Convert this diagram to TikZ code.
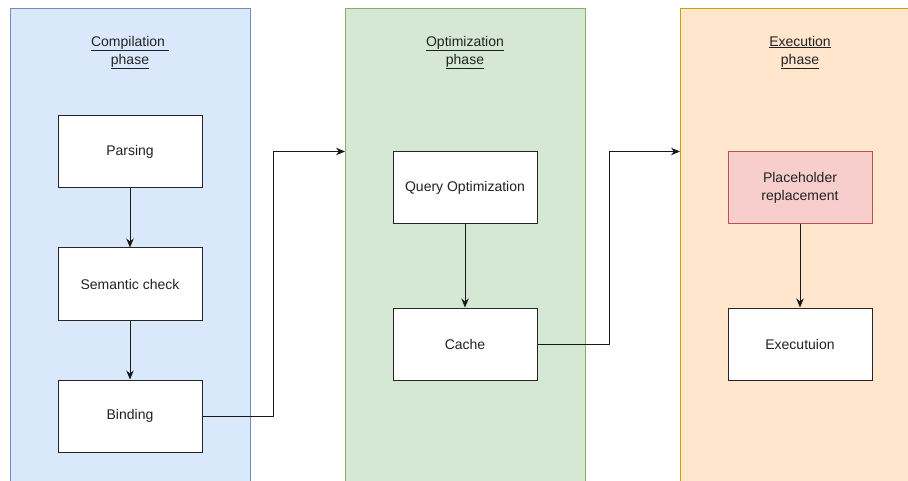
\documentclass[tikz,border=0pt]{standalone}
\usepackage{fontspec}
\setmainfont{Liberation Sans}
\usetikzlibrary{arrows.meta,positioning}

\definecolor{bluefill}{HTML}{DAE8FC}
\definecolor{bluedraw}{HTML}{6C8EBF}
\definecolor{greenfill}{HTML}{D5E8D4}
\definecolor{greendraw}{HTML}{82B366}
\definecolor{orangefill}{HTML}{FFE6CC}
\definecolor{orangedraw}{HTML}{D79B00}
\definecolor{redfill}{HTML}{F8CECC}
\definecolor{reddraw}{HTML}{B85450}
\definecolor{textgray}{HTML}{222222}

\tikzset{
  phasebox/.style={draw, line width=0.8pt, minimum width=240pt, minimum height=500pt,
    anchor=north west, inner sep=0pt},
  stepbox/.style={draw=black!85, fill=white, line width=1pt, minimum width=144pt,
    minimum height=72pt, align=center, inner sep=2pt, text=textgray},
  phaselabel/.style={align=center, text=textgray},
  flow/.style={->, line width=1pt, draw=black!90}
}

\begin{document}
\begin{tikzpicture}[x=1pt, y=-1pt, font=\fontsize{14}{18}\selectfont, >={Stealth[length=9pt,width=7.5pt]}]

  \useasboundingbox (0,0) rectangle (908,481);
  \clip (0,0) rectangle (908,481);

  % phases
  \node[phasebox, fill=bluefill, draw=bluedraw] (compilation) at (10,8) {};
  \node[phasebox, fill=greenfill, draw=greendraw] (optimization) at (345,8) {};
  \node[phasebox, fill=orangefill, draw=orangedraw] (execphase) at (680,8) {};

  \node[phaselabel] (compilationtitle) at (130,52.5) {\underline{Compilation\ }\\\underline{phase}};
  \node[phaselabel] (optimizationtitle) at (465,52.5) {\underline{Optimization}\\\underline{phase}};
  \node[phaselabel] (exectitle) at (800,52.5) {\underline{Execution}\\\underline{phase}};

  % steps
  \node[stepbox] (parsing) at (130,152) {Parsing};
  \node[stepbox, below=59pt of parsing] (semantic) {Semantic check};
  \node[stepbox, below=59pt of semantic] (binding) {Binding};

  \node[stepbox] (queryopt) at (465,188) {Query Optimization};
  \node[stepbox, below=83pt of queryopt] (cache) {Cache};

  \node[stepbox, fill=redfill, draw=reddraw] (placeholder) at (800,188) {Placeholder\\replacement};
  \node[stepbox, below=83pt of placeholder] (execution) {Executuion};

  \draw[flow] (parsing) -- (semantic);
  \draw[flow] (semantic) -- (binding);
  \draw[flow] (queryopt) -- (cache);
  \draw[flow] (placeholder) -- (execution);

  \draw[flow] (binding.east) -- ++(71,0) |- (optimization.west |- queryopt.north);
  \draw[flow] (cache.east) -- ++(72,0) |- (execphase.west |- placeholder.north);

\end{tikzpicture}
\end{document}
